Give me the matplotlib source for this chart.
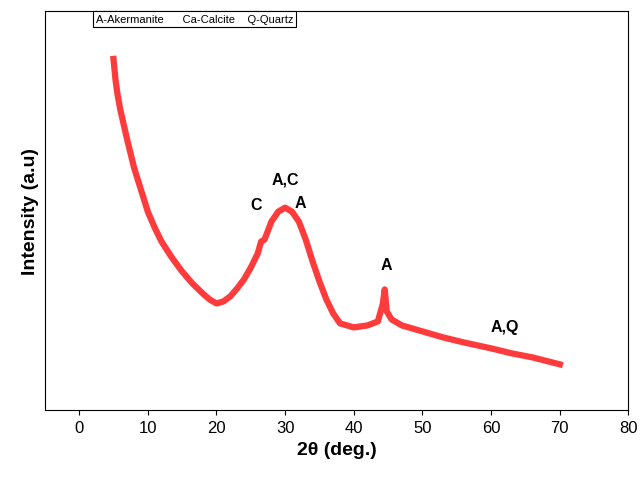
import numpy as np
import matplotlib.pyplot as plt

plt.rcParams['font.family'] = ['Liberation Sans', 'DejaVu Sans']

# 2theta values and intensity (arbitrary units)
two_theta = [5.0, 5.3, 5.6, 6.0, 7.0, 8.0, 9.0, 10.0, 11.0, 12.0, 13.5, 15.0, 16.5, 18.0,
             19.0, 20.0, 21.0, 22.0, 23.0, 24.0, 25.0, 26.0, 26.5, 27.0, 28.0, 29.0,
             30.0, 31.0, 32.0, 33.0, 34.0, 35.0, 36.0, 37.0, 38.0, 40.0, 42.0, 43.5,
             44.2, 44.5, 44.8, 45.5, 47.0, 50.0, 53.0, 56.0, 60.0, 63.0, 66.0, 70.0]
intensity = [421, 400, 385, 370, 340, 312, 290, 268, 252, 238, 222, 208, 196, 186,
             180, 176, 178, 183, 191, 200, 212, 226, 238, 240, 258, 268,
             272, 268, 258, 240, 218, 198, 180, 166, 156, 152, 154, 158,
             175, 190, 168, 160, 154, 148, 142, 137, 131, 126, 122, 115]

peaks_x = [25.8, 30.0, 32.2, 44.7, 62.0]
peaks_y = [268, 293, 270, 208, 145]
peaks_lbl = ['C', 'A,C', 'A', 'A', 'A,Q']

fig, ax = plt.subplots(figsize=(6.4, 4.81), dpi=100)
fig.subplots_adjust(left=0.07, right=0.982, top=0.975, bottom=0.145)
ax.plot(two_theta, intensity, color='#ff3b3b', lw=4.5, solid_joinstyle='round')
for x, y, t in zip(peaks_x, peaks_y, peaks_lbl):
    ax.text(x, y, t, ha='center', va='bottom', fontsize=11.5, fontweight='bold')

ax.text(2.4, 461, 'A-Akermanite      Ca-Calcite    Q-Quartz', fontsize=8,
        va='center', bbox=dict(boxstyle='square,pad=0.25', fc='white', ec='black', lw=0.8))

ax.set_xlim(-5, 80)
ax.set_ylim(69, 469)
ax.set_xticks(range(0, 81, 10))
ax.set_yticks([])
ax.tick_params(axis='x', labelsize=12, direction='out')
ax.set_xlabel('2θ (deg.)', fontsize=14, fontweight='bold')
ax.set_ylabel('Intensity (a.u)', fontsize=14, fontweight='bold')
fig.savefig('out.png')
